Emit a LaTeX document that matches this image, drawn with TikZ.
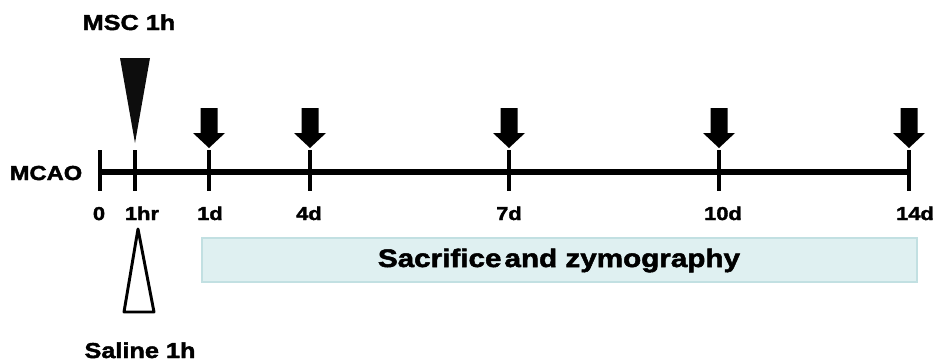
\documentclass[tikz,border=0pt]{standalone}
\usepackage{fontspec}
\newfontfamily\hv{Liberation Sans Bold}[FakeStretch=1.17,FakeBold=2]
\definecolor{boxfill}{HTML}{DFF0F1}
\definecolor{boxline}{HTML}{C2E0E2}
\begin{document}
\begin{tikzpicture}[x=0.75pt,y=-0.75pt,
  lbl/.style={inner sep=0pt,anchor=base,font=\hv\fontsize{14}{14}\selectfont},
  big/.style={inner sep=0pt,anchor=base,font=\hv\fontsize{16.2}{16.2}\selectfont},
  tick/.style={line width=2.4pt},
  downarrow/.style={fill=black}]
\useasboundingbox (0,0) rectangle (943,362);
% timeline
\coordinate (start) at (100,172);
\coordinate (end) at (909,172);
\draw[line width=4.6pt] (start) -- (end);
\foreach \x/\n in {100/t0,135/t1,209/t2,310/t3,509/t4,719/t5,909/t6}{
  \draw[tick] (\x,150) -- (\x,191);
}
% labels
\node[lbl] (l0) at (99,220) {0};
\node[lbl] (l1) at (142,220) {1hr};
\node[lbl] (l2) at (210,220) {1d};
\node[lbl] (l3) at (309,220) {4d};
\node[lbl] (l4) at (509,220) {7d};
\node[lbl] (l5) at (723,220) {10d};
\node[lbl] (l6) at (915,220) {14d};
\node[inner sep=0pt,anchor=base,font=\hv\fontsize{15.2}{15.2}\selectfont] (mcao) at (46,180) {MCAO};
\node[big] (msc) at (129,30) {MSC 1h};
\node[big] (sal) at (140,358) {Saline 1h};
% triangles
\fill[black!95] (120,58) -- (150,58) -- (135,143) -- cycle;
\draw[line width=2.2pt,line join=round,fill=white] (138,229) -- (154,312) -- (124,312) -- cycle;
% down arrows
\foreach \x in {209,310,509,719,909}{
  \fill[downarrow] (\x-8.5,108) -- (\x+8.5,108) -- (\x+8.5,133) -- (\x+16,133)
     -- (\x,148) -- (\x-16,133) -- (\x-8.5,133) -- cycle;
}
% box
\draw[boxline,fill=boxfill,line width=0.8pt] (202,238) rectangle (917,282);
\node[inner sep=0pt,anchor=base,font=\hv\fontsize{19}{19}\selectfont] (sz) at (559,267) {Sacrifice\hspace{0.12em}and zymography};
\end{tikzpicture}
\end{document}
